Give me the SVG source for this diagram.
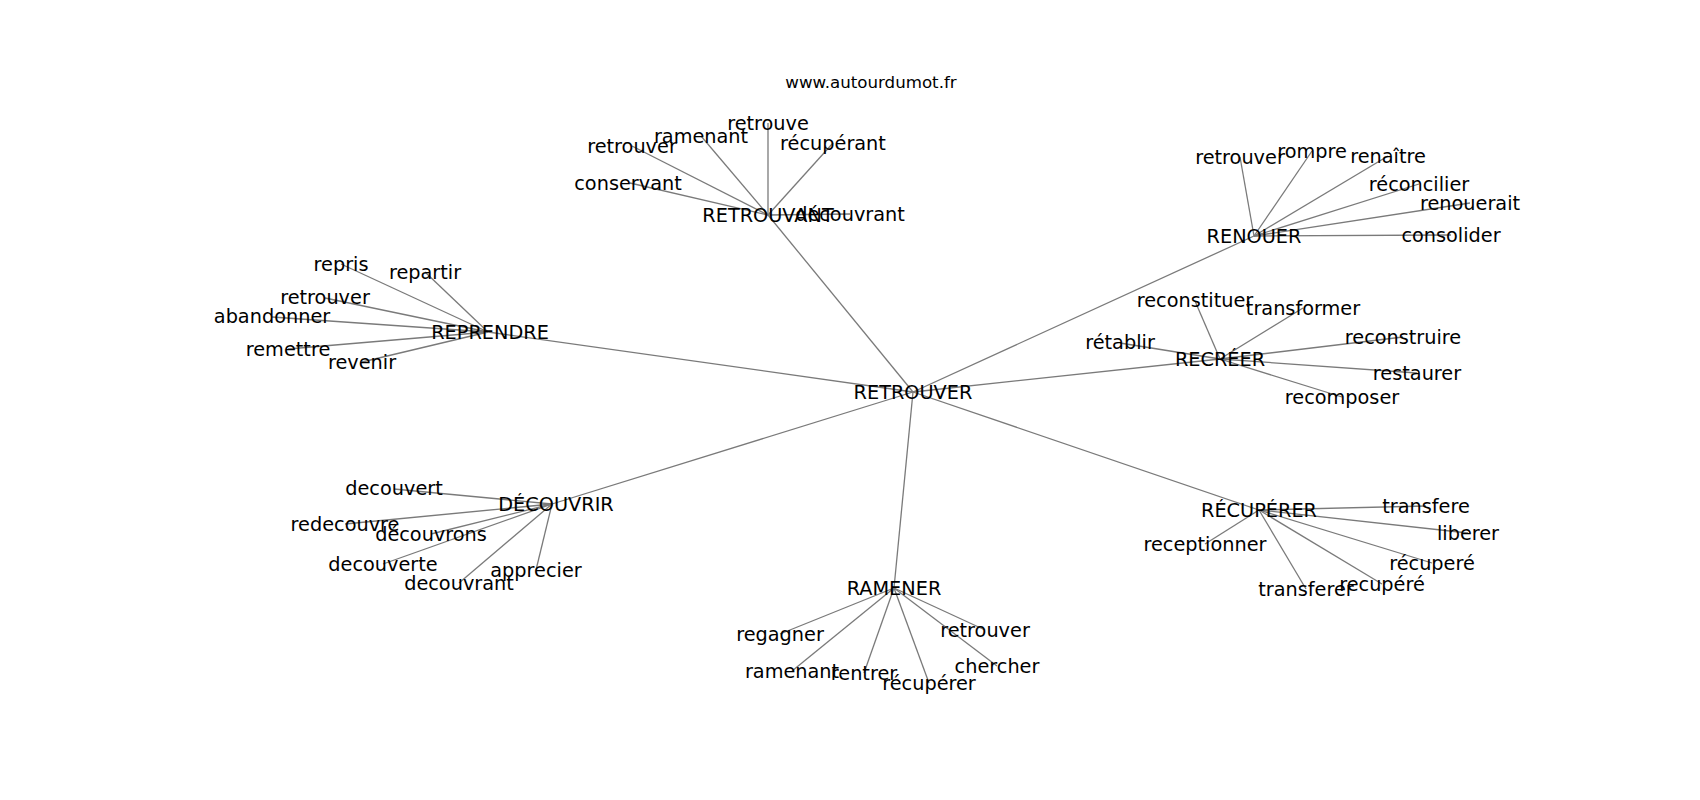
<svg xmlns="http://www.w3.org/2000/svg" width="1700" height="800" viewBox="0 0 1700 800">
<style>
text{font-family:"DejaVu Sans","Liberation Sans",sans-serif;font-size:19.3px;fill:#000;text-anchor:middle}
.t{font-size:16.67px}
#edges line{stroke:#7a7a7a;stroke-width:1.3}
</style>
<rect width="1700" height="800" fill="#fff"/>
<text class="t" x="871" y="88">www.autourdumot.fr</text>
<g id="edges">
<line x1="913" y1="392" x2="768" y2="215"/>
<line x1="913" y1="392" x2="488" y2="332"/>
<line x1="913" y1="392" x2="1254" y2="236"/>
<line x1="913" y1="392" x2="1220" y2="359"/>
<line x1="913" y1="392" x2="552" y2="504"/>
<line x1="913" y1="392" x2="894" y2="588"/>
<line x1="913" y1="392" x2="1259" y2="510"/>
<line x1="768" y1="215" x2="630" y2="183"/>
<line x1="768" y1="215" x2="632" y2="146"/>
<line x1="768" y1="215" x2="701" y2="136"/>
<line x1="768" y1="215" x2="768" y2="123"/>
<line x1="768" y1="215" x2="833" y2="143"/>
<line x1="768" y1="215" x2="850" y2="214"/>
<line x1="488" y1="332" x2="341" y2="264"/>
<line x1="488" y1="332" x2="425" y2="272"/>
<line x1="488" y1="332" x2="325" y2="298"/>
<line x1="488" y1="332" x2="272" y2="317"/>
<line x1="488" y1="332" x2="288" y2="349"/>
<line x1="488" y1="332" x2="362" y2="362"/>
<line x1="1254" y1="236" x2="1240" y2="157"/>
<line x1="1254" y1="236" x2="1312" y2="151"/>
<line x1="1254" y1="236" x2="1388" y2="156"/>
<line x1="1254" y1="236" x2="1419" y2="184"/>
<line x1="1254" y1="236" x2="1470" y2="203"/>
<line x1="1254" y1="236" x2="1451" y2="235"/>
<line x1="1220" y1="359" x2="1195" y2="301"/>
<line x1="1220" y1="359" x2="1303" y2="308"/>
<line x1="1220" y1="359" x2="1120" y2="343"/>
<line x1="1220" y1="359" x2="1403" y2="337"/>
<line x1="1220" y1="359" x2="1417" y2="373"/>
<line x1="1220" y1="359" x2="1342" y2="397"/>
<line x1="552" y1="504" x2="394" y2="489"/>
<line x1="552" y1="504" x2="345" y2="524"/>
<line x1="552" y1="504" x2="431" y2="534"/>
<line x1="552" y1="504" x2="383" y2="564"/>
<line x1="552" y1="504" x2="459" y2="583"/>
<line x1="552" y1="504" x2="536" y2="570"/>
<line x1="894" y1="588" x2="780" y2="634"/>
<line x1="894" y1="588" x2="792" y2="671"/>
<line x1="894" y1="588" x2="864" y2="673"/>
<line x1="894" y1="588" x2="929" y2="683"/>
<line x1="894" y1="588" x2="997" y2="666"/>
<line x1="894" y1="588" x2="985" y2="630"/>
<line x1="1259" y1="510" x2="1205" y2="544"/>
<line x1="1259" y1="510" x2="1426" y2="506"/>
<line x1="1259" y1="510" x2="1468" y2="533"/>
<line x1="1259" y1="510" x2="1432" y2="563"/>
<line x1="1259" y1="510" x2="1382" y2="584"/>
<line x1="1259" y1="510" x2="1306" y2="589"/>
</g>
<g id="n-retrouver"><text x="913" y="399">RETROUVER</text></g>
<g id="n-retrouvant"><text x="768" y="222">RETROUVANT</text></g>
<g id="n-reprendre"><text x="490" y="339">REPRENDRE</text></g>
<g id="n-renouer"><text x="1254" y="243">RENOUER</text></g>
<g id="n-recreer"><text x="1220" y="366">RECRÉER</text></g>
<g id="n-decouvrir"><text x="556" y="511">DÉCOUVRIR</text></g>
<g id="n-ramener"><text x="894" y="595">RAMENER</text></g>
<g id="n-recuperer"><text x="1259" y="517">RÉCUPÉRER</text></g>
<g id="n-rt-conservant"><text x="628" y="190">conservant</text></g>
<g id="n-rt-retrouver"><text x="632" y="153">retrouver</text></g>
<g id="n-rt-ramenant"><text x="701" y="143">ramenant</text></g>
<g id="n-rt-retrouve"><text x="768" y="130">retrouve</text></g>
<g id="n-rt-recuperant"><text x="833" y="150">récupérant</text></g>
<g id="n-rt-decouvrant"><text x="850" y="221">découvrant</text></g>
<g id="n-rp-repris"><text x="341" y="271">repris</text></g>
<g id="n-rp-repartir"><text x="425" y="279">repartir</text></g>
<g id="n-rp-retrouver"><text x="325" y="304">retrouver</text></g>
<g id="n-rp-abandonner"><text x="272" y="323">abandonner</text></g>
<g id="n-rp-remettre"><text x="288" y="356">remettre</text></g>
<g id="n-rp-revenir"><text x="362" y="369">revenir</text></g>
<g id="n-rn-retrouver"><text x="1240" y="164">retrouver</text></g>
<g id="n-rn-rompre"><text x="1312" y="158">rompre</text></g>
<g id="n-rn-renaitre"><text x="1388" y="163">renaître</text></g>
<g id="n-rn-reconcilier"><text x="1419" y="191">réconcilier</text></g>
<g id="n-rn-renouerait"><text x="1470" y="210">renouerait</text></g>
<g id="n-rn-consolider"><text x="1451" y="242">consolider</text></g>
<g id="n-rc-reconstituer"><text x="1195" y="307">reconstituer</text></g>
<g id="n-rc-transformer"><text x="1303" y="315">transformer</text></g>
<g id="n-rc-retablir"><text x="1120" y="349">rétablir</text></g>
<g id="n-rc-reconstruire"><text x="1403" y="344">reconstruire</text></g>
<g id="n-rc-restaurer"><text x="1417" y="380">restaurer</text></g>
<g id="n-rc-recomposer"><text x="1342" y="404">recomposer</text></g>
<g id="n-dc-decouvert"><text x="394" y="495">decouvert</text></g>
<g id="n-dc-redecouvre"><text x="345" y="531">redecouvre</text></g>
<g id="n-dc-decouvrons"><text x="431" y="541">découvrons</text></g>
<g id="n-dc-decouverte"><text x="383" y="571">decouverte</text></g>
<g id="n-dc-decouvrant"><text x="459" y="590">decouvrant</text></g>
<g id="n-dc-apprecier"><text x="536" y="577">apprecier</text></g>
<g id="n-rm-regagner"><text x="780" y="641">regagner</text></g>
<g id="n-rm-ramenant"><text x="792" y="678">ramenant</text></g>
<g id="n-rm-rentrer"><text x="864" y="680">rentrer</text></g>
<g id="n-rm-recuperer"><text x="929" y="690">récupérer</text></g>
<g id="n-rm-chercher"><text x="997" y="673">chercher</text></g>
<g id="n-rm-retrouver"><text x="985" y="637">retrouver</text></g>
<g id="n-ru-receptionner"><text x="1205" y="551">receptionner</text></g>
<g id="n-ru-transfere"><text x="1426" y="513">transfere</text></g>
<g id="n-ru-liberer"><text x="1468" y="540">liberer</text></g>
<g id="n-ru-recupere1"><text x="1432" y="570">récuperé</text></g>
<g id="n-ru-recupere2"><text x="1382" y="591">recupéré</text></g>
<g id="n-ru-transferer"><text x="1306" y="596">transferer</text></g>
</svg>
